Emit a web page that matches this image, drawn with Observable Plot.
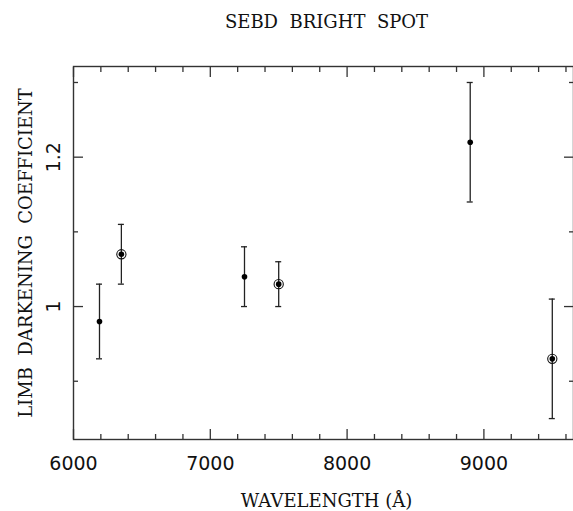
<!DOCTYPE html>
<html>
<head>
<meta charset="utf-8">
<script src="https://cdn.jsdelivr.net/npm/d3@7"></script>
<script src="https://cdn.jsdelivr.net/npm/@observablehq/plot@0.6"></script>
<style>
  html, body { margin: 0; padding: 0; background: #fff; }
</style>
</head>
<body>
<div id="chart"></div>
<script>
const title = "SEBD  BRIGHT  SPOT";
const xLabel = "WAVELENGTH (Å)";
const yLabel = "LIMB  DARKENING  COEFFICIENT";
const wavelengths = [6190, 6350, 7250, 7500, 8900, 9500];
const coefficients = [0.98, 1.07, 1.04, 1.03, 1.22, 0.93];
const errors = [0.05, 0.04, 0.04, 0.03, 0.08, 0.08];
const circled = [false, true, false, true, false, true];
const xMajorTicks = [6000, 7000, 8000, 9000];
const xMinorTicks = [6200, 6400, 6600, 6800, 7200, 7400, 7600, 7800, 8200, 8400, 8600, 8800, 9200, 9400, 9600];
const yMajorTicks = [1.0, 1.2];
const yMajorLabels = ["1", "1.2"];
const yMinorTicks = [0.9, 1.1, 1.3];

const data = wavelengths.map((w, i) => ({
  x: w, y: coefficients[i], lo: coefficients[i] - errors[i], hi: coefficients[i] + errors[i], ring: circled[i]
}));
const rings = data.filter(d => d.ring);

const serif = "DejaVu Serif";
const ink = "#111";
const tickStyle = {stroke: "#333", strokeWidth: 1.3, tickFormat: () => "", label: null};

const chart = Plot.plot({
  width: 573,
  height: 511,
  marginTop: 66,
  marginBottom: 72,
  marginLeft: 73,
  marginRight: 0,
  style: {background: "#fff", color: ink, fontFamily: "DejaVu Sans", fontSize: "19px"},
  x: {domain: [6000, 9655]},
  y: {domain: [0.822, 1.3214]},
  marks: [
    Plot.frame({stroke: "#333", strokeWidth: 1.4}),
    Plot.axisX(xMajorTicks, {anchor: "bottom", tickSize: -10, ...tickStyle}),
    Plot.axisX(xMinorTicks, {anchor: "bottom", tickSize: -5, ...tickStyle}),
    Plot.axisX(xMajorTicks, {anchor: "top", tickSize: -10, ...tickStyle}),
    Plot.axisX(xMinorTicks, {anchor: "top", tickSize: -5, ...tickStyle}),
    Plot.axisY(yMajorTicks, {anchor: "left", tickSize: -10, ...tickStyle}),
    Plot.axisY(yMinorTicks, {anchor: "left", tickSize: -5, ...tickStyle}),
    Plot.axisY(yMajorTicks, {anchor: "right", tickSize: -10, ...tickStyle}),
    Plot.axisY(yMinorTicks, {anchor: "right", tickSize: -5, ...tickStyle}),
    Plot.axisX(xMajorTicks, {anchor: "bottom", tickSize: 0, tickPadding: 17, label: null, tickFormat: d => String(d), fill: ink, fontSize: 19}),
    Plot.text(yMajorTicks, {y: d => d, text: (d, i) => yMajorLabels[i], frameAnchor: "left", dx: -13.5, rotate: -90, lineAnchor: "bottom", textAnchor: "middle", fontSize: 19, fill: ink}),
    Plot.text([yLabel], {frameAnchor: "left", dx: -42, rotate: -90, lineAnchor: "bottom", textAnchor: "middle", fontFamily: serif, fontSize: 18, fill: ink}),
    Plot.text([title], {frameAnchor: "top", dx: 3, dy: -39, lineAnchor: "bottom", fontFamily: serif, fontSize: 18, fill: ink}),
    Plot.text([xLabel], {frameAnchor: "bottom", dx: 3, dy: 67, lineAnchor: "bottom", fontFamily: serif, fontSize: 18, fill: ink}),
    Plot.ruleX(data, {x: "x", y1: "lo", y2: "hi", stroke: "#222", strokeWidth: 1.3}),
    Plot.ruleY(data, {y: "hi", x1: "x", x2: "x", insetLeft: -3, insetRight: -3, stroke: "#222", strokeWidth: 1.3}),
    Plot.ruleY(data, {y: "lo", x1: "x", x2: "x", insetLeft: -3, insetRight: -3, stroke: "#222", strokeWidth: 1.3}),
    Plot.dot(rings, {x: "x", y: "y", r: 4.6, stroke: "#111", strokeWidth: 1.1, fill: "none"}),
    Plot.dot(data, {x: "x", y: "y", r: 2.8, fill: "#000", stroke: "none"})
  ]
});
document.getElementById("chart").appendChild(chart);
</script>
</body>
</html>
